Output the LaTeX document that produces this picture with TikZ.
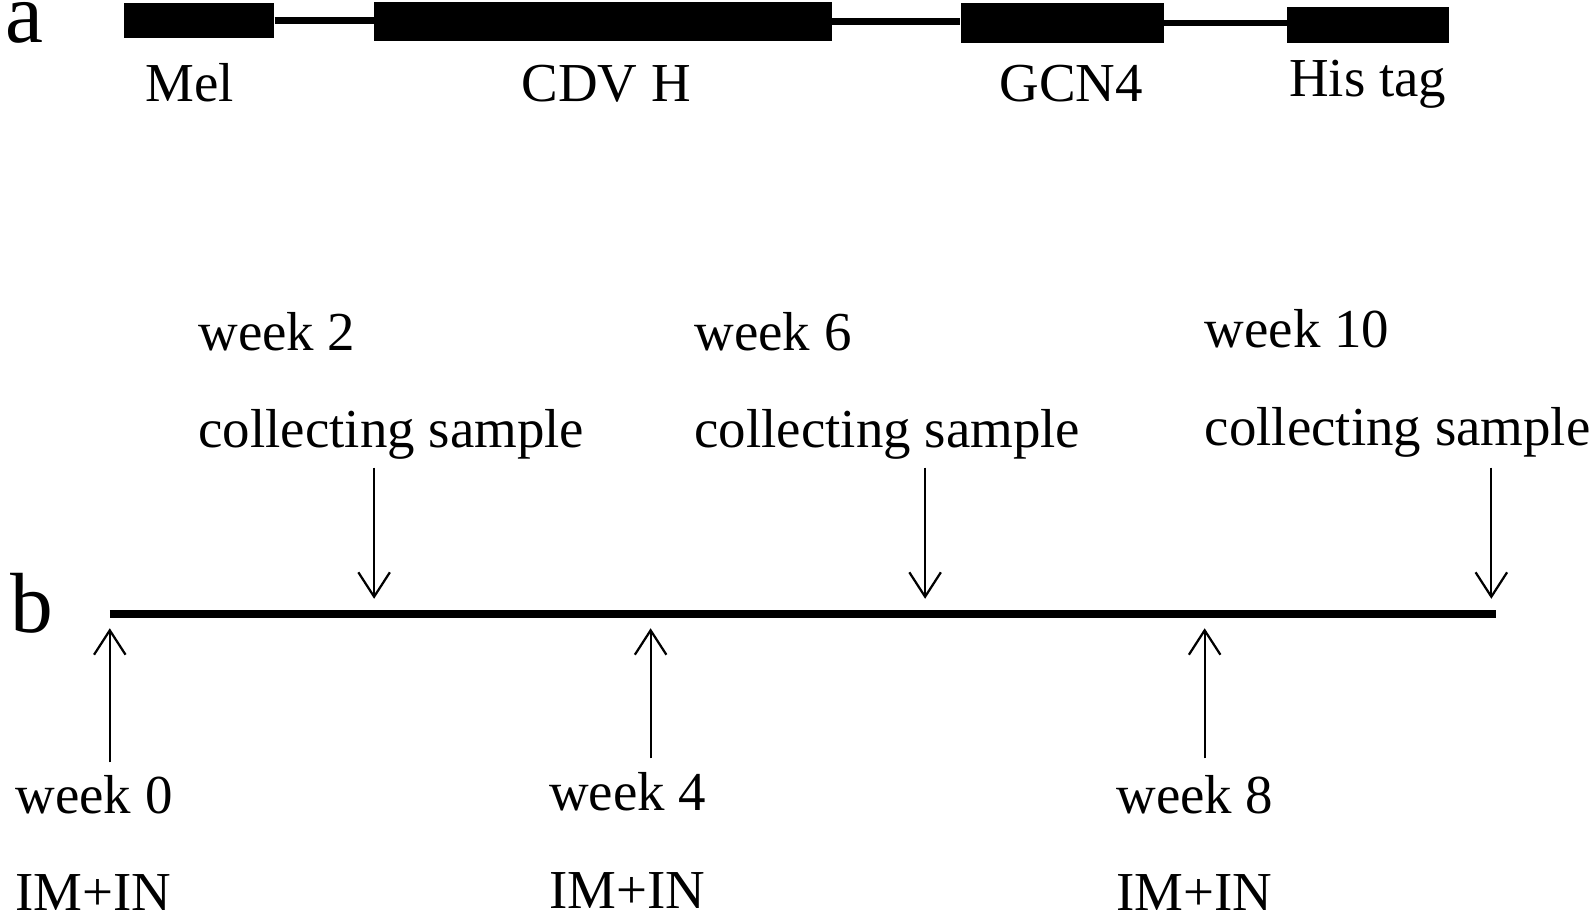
\documentclass[tikz,border=0pt]{standalone}
\usepackage{fontspec}
\setmainfont{Liberation Serif}
\usepackage{tikz}
\usetikzlibrary{positioning}
\usetikzlibrary{arrows.meta}

\begin{document}
\begin{tikzpicture}[x=1pt,y=-1pt,
  lbl/.style={anchor=base west,inner sep=0pt,font=\fontsize{54}{60}\selectfont},
  panel/.style={anchor=base west,inner sep=0pt,font=\fontsize{84}{90}\selectfont},
  gene/.style={draw=none,fill=black,inner sep=0pt,rectangle},
  link/.style={line width=6.5pt},
  arr/.style={-{Straight Barb[length=24pt,width=31pt,line width=2.2pt]},line width=2.2pt}]
\useasboundingbox (0,0) rectangle (1568,900);
% a: construct
\node[panel] (pa) at (5,42) {a};
\node[gene,minimum width=148pt,minimum height=34pt] (mel) at (196,20) {};
\node[gene,minimum width=450pt,minimum height=38pt] (cdv) at (593,21) {};
\node[gene,minimum width=200pt,minimum height=39pt] (gcn) at (1045,22.5) {};
\node[gene,minimum width=159pt,minimum height=35pt] (his) at (1345.5,24.5) {};
\draw[link] (mel.east) -- (mel.east -| cdv.west);
\draw[link] (cdv.east) -- (cdv.east -| gcn.west);
\draw[link] (gcn.east) -- (gcn.east -| his.west);
\node[lbl] (lmel) at (143,100) {Mel};
\node[lbl] (lcdv) at (513,100) {CDV H};
\node[lbl] (lgcn) at (983,100) {GCN4};
\node[lbl] (lhis) at (1268,95) {His tag};
% b: schedule
\node[panel] (pb) at (10,622) {b};
\coordinate (t0) at (108,604);
\coordinate (t10) at (1472,604);
\draw[line width=8.5pt] (t0) -- (t10);
% sampling (above)
\node[lbl] (w2) at (195,345) {week 2};
\node[lbl] (c2) at (195,440) {collecting sample};
\node[lbl] (w6) at (683,345) {week 6};
\node[lbl] (c6) at (683,440) {collecting sample};
\node[lbl] (w10) at (1185,342) {week 10};
\node[lbl] (c10) at (1185,438) {collecting sample};
\coordinate (s2) at (368,460);  \coordinate (e2) at (368,589);
\coordinate (s6) at (910,460);  \coordinate (e6) at (910,589);
\coordinate (s10) at (1467,460); \coordinate (e10) at (1467,589);
\draw[arr] (s2) -- (e2);
\draw[arr] (s6) -- (e6);
\draw[arr] (s10) -- (e10);
% immunisation (below)
\node[lbl] (w0) at (15,800) {week 0};
\node[lbl] (i0) at (15,896) {IM+IN};
\node[lbl] (w4) at (540,797) {week 4};
\node[lbl] (i4) at (540,894) {IM+IN};
\node[lbl] (w8) at (1098,800) {week 8};
\node[lbl] (i8) at (1098,896) {IM+IN};
\coordinate (b0) at (108,750);  \coordinate (u0) at (108,618);
\coordinate (b4) at (640,746);  \coordinate (u4) at (640,618);
\coordinate (b8) at (1185,746); \coordinate (u8) at (1185,618);
\draw[arr] (b0) -- (u0);
\draw[arr] (b4) -- (u4);
\draw[arr] (b8) -- (u8);
\end{tikzpicture}
\end{document}
